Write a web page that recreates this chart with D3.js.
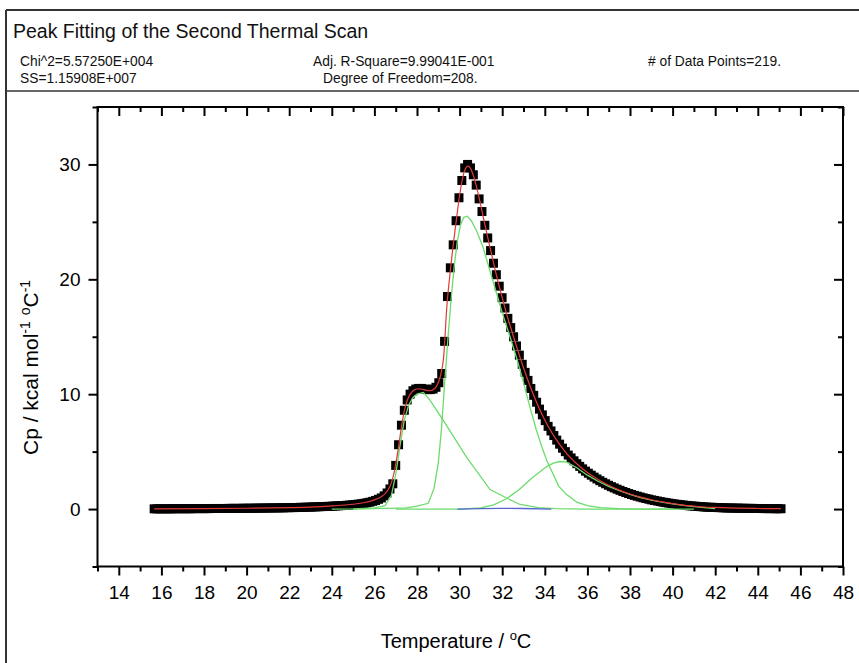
<!DOCTYPE html>
<html><head><meta charset="utf-8">
<script src="https://cdn.jsdelivr.net/npm/d3@7"></script>
<style>
html,body{margin:0;padding:0;background:#fff;}
svg{display:block;font-family:"Liberation Sans",Arial,sans-serif;}
</style></head>
<body>
<svg id="chart" width="859" height="663"></svg>
<script>
// ---------- data ----------
const titleText = "Peak Fitting of the Second Thermal Scan";
const statsRow1 = ["Chi^2=5.57250E+004", "Adj. R-Square=9.99041E-001", "# of Data Points=219."];
const statsRow2 = ["SS=1.15908E+007", "Degree of Freedom=208."];

const xMajorTicks = [14,16,18,20,22,24,26,28,30,32,34,36,38,40,42,44,46,48];
const xMinorTicks = [13,15,17,19,21,23,25,27,29,31,33,35,37,39,41,43,45,47];
const yMajorTicks = [0,10,20,30];
const yMinorTicks = [-5,5,15,25,35];

const dataX = [
15.660,15.795,15.930,16.065,16.200,16.335,16.470,16.605,16.740,16.875,17.010,17.145,17.280,17.415,17.550,17.685,17.820,17.955,18.090,18.225,
18.360,18.495,18.630,18.765,18.900,19.035,19.170,19.305,19.440,19.575,19.710,19.845,19.980,20.115,20.250,20.385,20.520,20.655,20.790,20.925,
21.060,21.195,21.330,21.465,21.600,21.735,21.870,22.005,22.140,22.275,22.410,22.545,22.680,22.815,22.950,23.085,23.220,23.355,23.490,23.625,
23.760,23.895,24.030,24.165,24.300,24.435,24.570,24.705,24.840,24.975,25.110,25.245,25.380,25.515,25.650,25.785,25.920,26.055,26.190,26.325,
26.460,26.595,26.730,26.865,27.000,27.135,27.270,27.405,27.540,27.675,27.810,27.945,28.080,28.215,28.350,28.485,28.620,28.755,28.890,29.025,
29.160,29.295,29.430,29.565,29.700,29.835,29.970,30.105,30.240,30.375,30.510,30.645,30.780,30.915,31.050,31.185,31.320,31.455,31.590,31.725,
31.860,31.995,32.130,32.265,32.400,32.535,32.670,32.805,32.940,33.075,33.210,33.345,33.480,33.615,33.750,33.885,34.020,34.155,34.290,34.425,
34.560,34.695,34.830,34.965,35.100,35.235,35.370,35.505,35.640,35.775,35.910,36.045,36.180,36.315,36.450,36.585,36.720,36.855,36.990,37.125,
37.260,37.395,37.530,37.665,37.800,37.935,38.070,38.205,38.340,38.475,38.610,38.745,38.880,39.015,39.150,39.285,39.420,39.555,39.690,39.825,
39.960,40.095,40.230,40.365,40.500,40.635,40.770,40.905,41.040,41.175,41.310,41.445,41.580,41.715,41.850,41.985,42.120,42.255,42.390,42.525,
42.660,42.795,42.930,43.065,43.200,43.335,43.470,43.605,43.740,43.875,44.010,44.145,44.280,44.415,44.550,44.685,44.820,44.955,45.090];
const dataY = [
0.02,0.02,0.02,0.02,0.02,0.02,0.02,0.03,0.03,0.03,0.03,0.03,0.03,0.03,0.04,0.04,0.04,0.04,0.04,0.04,
0.05,0.05,0.05,0.05,0.05,0.05,0.06,0.06,0.06,0.06,0.06,0.07,0.07,0.07,0.07,0.08,0.08,0.08,0.09,0.09,
0.09,0.10,0.10,0.10,0.11,0.11,0.12,0.12,0.13,0.13,0.14,0.15,0.15,0.16,0.17,0.18,0.19,0.20,0.21,0.22,
0.23,0.24,0.25,0.27,0.28,0.30,0.31,0.33,0.35,0.37,0.40,0.43,0.46,0.50,0.55,0.60,0.67,0.75,0.85,0.97,
1.15,1.40,1.75,2.20,3.80,5.60,7.30,8.60,9.50,10.00,10.30,10.45,10.50,10.50,10.45,10.40,10.40,10.45,10.60,11.00,
11.80,14.60,18.50,21.00,23.00,25.10,27.10,28.60,29.70,30.00,29.70,29.10,28.20,27.00,25.90,24.70,23.60,22.50,21.40,20.40,
19.40,18.40,17.50,16.60,15.80,15.00,14.20,13.40,12.60,11.90,11.20,10.50,9.90,9.30,8.70,8.20,7.70,7.20,6.80,6.40,
6.00,5.65,5.30,5.00,4.70,4.45,4.20,3.95,3.72,3.50,3.30,3.12,2.95,2.78,2.62,2.47,2.33,2.20,2.07,1.95,
1.84,1.73,1.63,1.53,1.44,1.35,1.27,1.19,1.12,1.05,0.98,0.92,0.86,0.80,0.75,0.70,0.65,0.60,0.56,0.52,
0.48,0.44,0.41,0.38,0.35,0.32,0.29,0.27,0.25,0.23,0.21,0.19,0.17,0.16,0.15,0.14,0.13,0.12,0.11,0.10,
0.09,0.09,0.08,0.08,0.07,0.07,0.06,0.06,0.06,0.05,0.05,0.05,0.04,0.04,0.04,0.04,0.03,0.03,0.03];

// cumulative fit (red)
const fitX = [15.66,18,20,22,23,24,25,25.5,26,26.3,26.6,26.8,26.95,27.1,27.25,27.4,27.55,27.7,27.85,28.0,28.2,28.4,28.6,28.8,28.95,29.1,29.25,29.4,29.55,29.7,29.85,30.0,30.15,30.3,30.4,30.5,30.65,30.8,30.95,31.1,31.3,31.5,31.75,32.0,32.25,32.5,32.75,33.0,33.25,33.5,33.75,34.0,34.25,34.5,34.75,35.0,35.5,36.0,36.5,37.0,37.5,38.0,38.5,39.0,39.5,40.0,40.5,41.0,41.5,42.0,43.0,44.0,45.09];
const fitY = [0.02,0.04,0.07,0.12,0.17,0.27,0.42,0.55,0.8,1.05,1.55,2.3,3.4,5.0,6.9,8.5,9.5,10.05,10.35,10.45,10.45,10.35,10.3,10.45,10.8,11.6,13.2,17.6,20.5,23.0,25.2,27.3,28.9,29.7,29.85,29.7,29.0,28.0,26.8,25.5,23.8,22.2,20.2,18.4,16.7,15.2,13.7,12.3,11.0,9.8,8.7,7.75,6.9,6.15,5.5,4.9,3.95,3.18,2.57,2.07,1.65,1.31,1.04,0.81,0.62,0.47,0.35,0.26,0.18,0.14,0.08,0.05,0.03];

// fitted component peaks (green)
const peak1X = [24.0,25.0,26.0,26.5,26.8,27.0,27.2,27.4,27.6,27.8,28.0,28.3,28.6,29.31,30.33,31.43,32.21,32.84,33.7,34.5,36.0,40.0];
const peak1Y = [0,0.02,0.1,0.3,1.2,3.0,5.5,7.7,9.0,9.7,10.0,10.15,9.5,7.5,4.5,1.7,0.96,0.4,0.12,0.04,0,0];
const peak2X = [25.0,27.5,28.0,28.53,28.8,29.0,29.15,29.3,29.45,29.6,29.75,29.9,30.05,30.2,30.36,30.55,30.8,31.1,31.4,31.7,32.0,32.4,32.7,33.0,33.3,33.6,33.9,34.1,34.4,34.65,35.0,35.5,36.0,36.6,37.5,38.5,41.0];
const peak2Y = [0,0.1,0.25,0.5,1.8,4.0,7.0,11.0,14.8,18.2,21.2,23.4,24.8,25.4,25.5,25.1,24.2,22.8,20.9,19.0,17.1,14.8,13.0,11.0,8.9,6.9,5.2,4.2,3.0,2.0,1.3,0.6,0.3,0.12,0.03,0,0];
const peak3X = [27.0,30.0,31.0,31.6,32.2,32.8,33.4,34.09,34.4,34.7,35.0,35.5,36.0,36.5,37.0,37.5,38.0,38.5,39.0,39.5,40.0,40.5,41.0,41.5,42.0];
const peak3Y = [0,0,0.1,0.37,0.9,1.7,2.7,3.7,4.0,4.14,4.1,3.6,2.95,2.42,1.97,1.6,1.27,1.0,0.78,0.6,0.45,0.33,0.22,0.12,0.04];
// tiny baseline component (blue)
const peak4X = [29.9,31.0,32.0,33.0,34.3];
const peak4Y = [0.0,0.03,0.06,0.05,0.0];

// ---------- drawing ----------
const svg = d3.select("#chart");
const W = 859, H = 663;
const pL = 97.5, pR = 843, pT = 107, pB = 566.5;

const x = d3.scaleLinear().domain([13, 48]).range([pL, pR]);
const y = d3.scaleLinear().domain([-5, 35]).range([pB, pT]);

// outer frame and header
const frameCol = "#333";
svg.append("line").attr("x1",6).attr("y1",10).attr("x2",W).attr("y2",10).attr("stroke",frameCol).attr("stroke-width",2);
svg.append("line").attr("x1",6).attr("y1",10).attr("x2",6).attr("y2",H).attr("stroke",frameCol).attr("stroke-width",2);
svg.append("line").attr("x1",6).attr("y1",91).attr("x2",W).attr("y2",91).attr("stroke",frameCol).attr("stroke-width",1.5);

svg.append("text").attr("x",13).attr("y",38).attr("font-size",19.5).attr("fill","#111").text(titleText);
const statX = [20, 313, 648];
statsRow1.forEach((t,i)=> svg.append("text").attr("x",statX[i]).attr("y",66).attr("font-size",13.8).attr("fill","#111").text(t));
statsRow2.forEach((t,i)=> svg.append("text").attr("x",i===0?20:323).attr("y",83).attr("font-size",13.8).attr("fill","#111").text(t));

// plot content clipped to axes box
svg.append("defs").append("clipPath").attr("id","clip")
  .append("rect").attr("x",pL).attr("y",pT).attr("width",pR-pL).attr("height",pB-pT);
const plot = svg.append("g").attr("clip-path","url(#clip)");

const pts = dataX.map((d,i)=>({x:d, y:dataY[i]}));
const sq = 9;
plot.append("g").selectAll("rect").data(pts).join("rect")
  .attr("x", d=>x(d.x)-sq/2).attr("y", d=>y(d.y)-sq/2)
  .attr("width", sq).attr("height", sq).attr("fill","#000");

const line = d3.line().x(d=>x(d[0])).y(d=>y(d[1]));
const zip = (a,b)=>a.map((v,i)=>[v,b[i]]);
const green = "#6bdc6b";
[[peak1X,peak1Y],[peak2X,peak2Y],[peak3X,peak3Y]].forEach(([a,b])=>{
  plot.append("path").attr("d", line(zip(a,b))).attr("fill","none").attr("stroke",green).attr("stroke-width",1.3);
});
plot.append("path").attr("d", line(zip(peak4X,peak4Y))).attr("fill","none").attr("stroke","#5566cc").attr("stroke-width",1.3);
plot.append("path").attr("d", d3.line().curve(d3.curveMonotoneX).x(d=>x(d[0])).y(d=>y(d[1]))(zip(fitX,fitY)))
  .attr("fill","none").attr("stroke","#e03a3a").attr("stroke-width",1.2);

// axes
const tickStroke = 2;
function styleAxis(g){
  g.select(".domain").remove();
  g.selectAll(".tick line").attr("stroke","#000").attr("stroke-width",tickStroke);
  g.selectAll("text").attr("font-size",19).attr("fill","#000").attr("font-family","'Liberation Sans',Arial,sans-serif");
}
svg.append("g").attr("transform",`translate(0,${pB})`)
  .call(d3.axisBottom(x).tickValues(xMajorTicks).tickSize(9).tickPadding(10).tickSizeOuter(0).tickFormat(d3.format("d"))).call(styleAxis);
svg.append("g").attr("transform",`translate(0,${pB})`)
  .call(d3.axisBottom(x).tickValues(xMinorTicks).tickSize(5).tickSizeOuter(0).tickFormat("")).call(styleAxis);
svg.append("g").attr("transform",`translate(0,${pT})`)
  .call(d3.axisTop(x).tickValues(xMajorTicks).tickSize(-9).tickSizeOuter(0).tickFormat("")).call(styleAxis);
svg.append("g").attr("transform",`translate(0,${pT})`)
  .call(d3.axisTop(x).tickValues(xMinorTicks).tickSize(-5).tickSizeOuter(0).tickFormat("")).call(styleAxis);
svg.append("g").attr("transform",`translate(${pL},0)`)
  .call(d3.axisLeft(y).tickValues(yMajorTicks).tickSize(9).tickPadding(8).tickSizeOuter(0).tickFormat(d3.format("d"))).call(styleAxis);
svg.append("g").attr("transform",`translate(${pL},0)`)
  .call(d3.axisLeft(y).tickValues(yMinorTicks).tickSize(5).tickSizeOuter(0).tickFormat("")).call(styleAxis);
svg.append("g").attr("transform",`translate(${pR},0)`)
  .call(d3.axisRight(y).tickValues(yMajorTicks).tickSize(-9).tickSizeOuter(0).tickFormat("")).call(styleAxis);
svg.append("g").attr("transform",`translate(${pR},0)`)
  .call(d3.axisRight(y).tickValues(yMinorTicks).tickSize(-5).tickSizeOuter(0).tickFormat("")).call(styleAxis);

svg.append("rect").attr("x",pL).attr("y",pT).attr("width",pR-pL).attr("height",pB-pT)
  .attr("fill","none").attr("stroke","#000").attr("stroke-width",2);

// axis titles
const xt = svg.append("text").attr("x",456).attr("y",648).attr("text-anchor","middle").attr("font-size",20).attr("fill","#000");
xt.append("tspan").text("Temperature / ");
xt.append("tspan").attr("font-size",13).attr("dy",-8).text("o");
xt.append("tspan").attr("dy",8).text("C");

const yt = svg.append("text").attr("transform",`translate(38,455) rotate(-90)`)
  .attr("text-anchor","start").attr("font-size",21).attr("fill","#000");
yt.append("tspan").text("Cp / kcal mol");
yt.append("tspan").attr("font-size",14).attr("dy",-8).text("-1");
yt.append("tspan").attr("dy",8).text(" ");
yt.append("tspan").attr("font-size",14).attr("dy",-8).text("o");
yt.append("tspan").attr("dy",8).text("C");
yt.append("tspan").attr("font-size",14).attr("dy",-8).text("-1");
</script>
</body></html>
